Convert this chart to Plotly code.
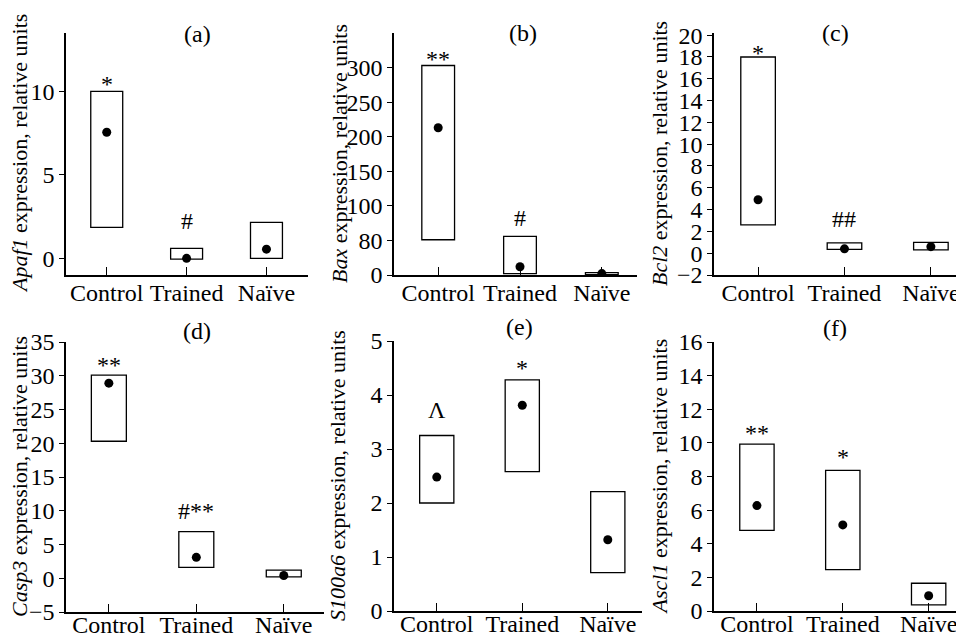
import plotly.graph_objects as go

categories = ["Control", "Trained", "Naïve"]

panel_tags = ["(a)", "(b)", "(c)", "(d)", "(e)", "(f)"]
genes = ["Apaf1", "Bax", "Bcl2", "Casp3", "S100a6", "Ascl1"]

# box lower / upper bounds and central point (relative units)
a_low = [1.85, -0.05, 0.0]
a_high = [10.0, 0.6, 2.15]
a_mid = [7.55, 0.0, 0.55]

b_low = [51, 2, 0.5]
b_high = [303, 56, 3.5]
b_mid = [213, 12, 2]

c_low = [2.6, 0.35, 0.3]
c_high = [18.0, 0.95, 1.0]
c_mid = [4.9, 0.4, 0.6]

d_low = [20.3, 1.6, 0.2]
d_high = [30.1, 6.9, 1.2]
d_mid = [28.9, 3.1, 0.4]

e_low = [2.0, 2.58, 0.71]
e_high = [3.25, 4.28, 2.21]
e_mid = [2.48, 3.81, 1.32]

f_low = [4.8, 2.46, 0.36]
f_high = [9.93, 8.37, 1.65]
f_mid = [6.27, 5.12, 0.91]

a_sig = ["*", "#", ""]
b_sig = ["**", "#", ""]
c_sig = ["*", "##", ""]
d_sig = ["**", "#**", ""]
e_sig = ["Λ", "*", ""]
f_sig = ["**", "*", ""]

a_ticks = [0, 5, 10]
a_ticktext = ["0", "5", "10"]
b_ticks = [0, 50, 100, 150, 200, 250, 300]
b_ticktext = ["0", "80", "100", "150", "200", "250", "300"]
c_ticks = list(range(-2, 21, 2))
c_ticktext = ["−2"] + [str(v) for v in range(0, 21, 2)]
d_ticks = list(range(-5, 36, 5))
d_ticktext = ["−5"] + [str(v) for v in range(0, 36, 5)]
e_ticks = [0, 1, 2, 3, 4, 5]
e_ticktext = [str(v) for v in e_ticks]
f_ticks = list(range(0, 17, 2))
f_ticktext = [str(v) for v in f_ticks]

# ---------------- layout helpers ----------------
# The page body has an 8 px margin, so the figure is drawn 8 px in from the
# window's top-left corner; positions below are given in window pixels.
OFF = 8
W, H = 964 - OFF, 638 - OFF
FONT = "Liberation Serif"
FS = 24
FS_TITLE = 22


def fx(px):
    return (px - OFF) / W


def fy(py):
    return 1 - (py - OFF) / H


panels = [
    dict(low=a_low, high=a_high, mid=a_mid, sig=a_sig, tv=a_ticks, tt=a_ticktext,
         px=(66, 308), py=(33, 275), xr=[-0.51, 2.52], yr=[-1, 13.5],
         sigshift=[12, 27], tag=(197, 34), ytitle_x=19, lab=-5),
    dict(low=b_low, high=b_high, mid=b_mid, sig=b_sig, tv=b_ticks, tt=b_ticktext,
         px=(394, 637), py=(33, 275), xr=[-0.54, 2.43], yr=[0, 350],
         sigshift=[11, 18], tag=(523, 33), ytitle_x=339, lab=-5),
    dict(low=c_low, high=c_high, mid=c_mid, sig=c_sig, tv=c_ticks, tt=c_ticktext,
         px=(714, 962), py=(33, 275), xr=[-0.51, 2.36], yr=[-2, 20.2],
         sigshift=[9, 24], tag=(835, 33), ytitle_x=659, lab=-5),
    dict(low=d_low, high=d_high, mid=d_mid, sig=d_sig, tv=d_ticks, tt=d_ticktext,
         px=(66, 324), py=(342, 612), xr=[-0.49, 2.46], yr=[-5, 35],
         sigshift=[15, 21], tag=(197, 331), ytitle_x=19, lab=-10),
    dict(low=e_low, high=e_high, mid=e_mid, sig=e_sig, tv=e_ticks, tt=e_ticktext,
         px=(394, 642), py=(341, 611), xr=[-0.5, 2.4], yr=[0, 5],
         sigshift=[26, 17], tag=(520, 327), ytitle_x=337, lab=-10),
    dict(low=f_low, high=f_high, mid=f_mid, sig=f_sig, tv=f_ticks, tt=f_ticktext,
         px=(714, 963), py=(342, 611), xr=[-0.5, 2.4], yr=[0, 16],
         sigshift=[16, 18], tag=(835, 328), ytitle_x=659, lab=-10),
]

fig = go.Figure()
annotations = []
layout = {}

for i, p in enumerate(panels):
    n = "" if i == 0 else str(i + 1)
    xa, ya = "x" + n, "y" + n
    heights = [h - l for h, l in zip(p["high"], p["low"])]
    fig.add_trace(go.Bar(
        x=categories, y=heights, base=p["low"], width=0.4,
        marker=dict(color="white", line=dict(color="black", width=1.3)),
        xaxis=xa, yaxis=ya, showlegend=False, hoverinfo="skip"))
    fig.add_trace(go.Scatter(
        x=categories, y=p["mid"], mode="markers",
        marker=dict(color="black", size=9),
        xaxis=xa, yaxis=ya, showlegend=False))

    x0, x1 = p["px"]
    y0, y1 = p["py"]
    layout["xaxis" + n] = dict(
        domain=[fx(x0), min(fx(x1), 1)], range=p["xr"], anchor=ya, automargin=False,
        type="category", showline=True, linecolor="black", linewidth=1.5,
        ticks="inside", ticklen=8, tickwidth=1.3, tickcolor="black",
        ticklabelstandoff=p["lab"],
        showgrid=False, zeroline=False,
        tickfont=dict(family=FONT, size=FS, color="black"))
    layout["yaxis" + n] = dict(
        domain=[fy(y1), fy(y0)], range=p["yr"], anchor=xa, automargin=False,
        showline=True, linecolor="black", linewidth=1.5,
        ticks="outside", ticklen=5, tickwidth=1.3, tickcolor="black",
        tickvals=p["tv"], ticktext=p["tt"],
        showgrid=False, zeroline=False,
        tickfont=dict(family=FONT, size=FS, color="black"))

    # significance marks above boxes
    for j, s in enumerate(p["sig"]):
        if not s:
            continue
        shift = p["sigshift"][j]
        if set(s) == {"*"}:
            shift -= 5
        annotations.append(dict(
            x=categories[j], y=p["high"][j], xref=xa, yref=ya,
            text=s, showarrow=False, yanchor="middle", yshift=shift,
            font=dict(family=FONT, size=FS, color="black")))

    # panel tag
    tx, ty = p["tag"]
    annotations.append(dict(
        x=fx(tx), y=fy(ty), xref="paper", yref="paper",
        text=panel_tags[i], showarrow=False, xanchor="center", yanchor="middle",
        font=dict(family=FONT, size=FS, color="black")))

    # y-axis title
    annotations.append(dict(
        x=fx(p["ytitle_x"]), y=fy((y0 + y1) / 2), xref="paper", yref="paper",
        text="<i>" + genes[i] + "</i> expression, relative units",
        textangle=-90, showarrow=False, xanchor="center", yanchor="middle",
        font=dict(family=FONT, size=FS_TITLE, color="black")))

fig.update_layout(
    width=W, height=H,
    margin=dict(l=0, r=0, t=0, b=0),
    paper_bgcolor="white", plot_bgcolor="white",
    annotations=annotations,
    **layout)

fig.write_html("out.html")
